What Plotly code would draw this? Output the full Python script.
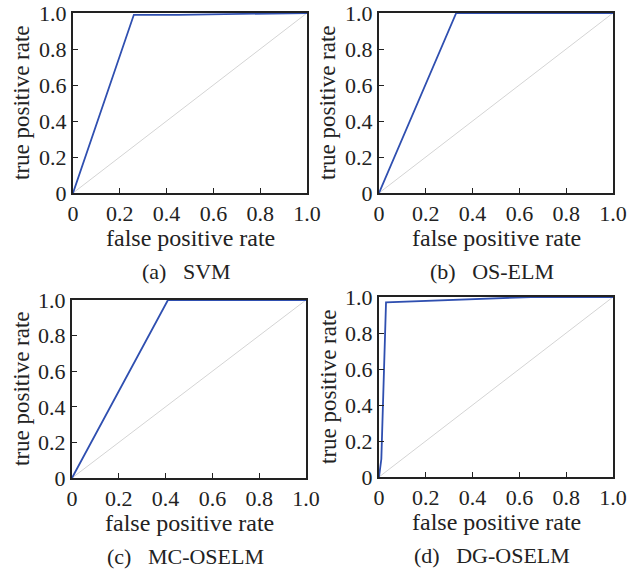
import plotly.graph_objects as go

W, H = 641, 574

# ROC data for each panel
svm_fpr = [0, 0.26, 0.45, 0.95, 1.0]
svm_tpr = [0, 0.99, 0.99, 1.0, 1.0]
oselm_fpr = [0, 0.33, 1.0]
oselm_tpr = [0, 1.0, 1.0]
mcoselm_fpr = [0, 0.41, 1.0]
mcoselm_tpr = [0, 1.0, 1.0]
dgoselm_fpr = [0, 0.01, 0.03, 0.65, 1.0]
dgoselm_tpr = [0, 0.1, 0.97, 1.0, 1.0]

diag = [0, 1]
tick_vals = [0, 0.2, 0.4, 0.6, 0.8, 1.0]
tick_text = ["0", "0.2", "0.4", "0.6", "0.8", "1.0"]
captions = ["(a)   SVM", "(b)   OS-ELM", "(c)   MC-OSELM", "(d)   DG-OSELM"]
xlabel = "false positive rate"
ylabel = "true positive rate"

series = [(svm_fpr, svm_tpr), (oselm_fpr, oselm_tpr), (mcoselm_fpr, mcoselm_tpr), (dgoselm_fpr, dgoselm_tpr)]

# panel boxes in pixels: (left, right, top, bottom)
boxes = [(73, 307, 13, 193), (379, 613, 13, 193), (72, 306, 300, 478), (379, 613, 297, 477)]

FONT = "Liberation Serif, Times New Roman, serif"
TXT = "#222222"

fig = go.Figure()
annotations = []
layout = {}
for i, ((fx, fy), (l, r, t, b)) in enumerate(zip(series, boxes)):
    n = "" if i == 0 else str(i + 1)
    xa, ya = "x" + n, "y" + n
    fig.add_trace(go.Scatter(x=diag, y=diag, mode="lines", line=dict(color="#d4d4d4", width=1),
                             xaxis=xa, yaxis=ya, showlegend=False, hoverinfo="skip"))
    fig.add_trace(go.Scatter(x=fx, y=fy, mode="lines", line=dict(color="#2f4fb0", width=1.8),
                             xaxis=xa, yaxis=ya, showlegend=False))
    common = dict(range=[0, 1], showgrid=False, zeroline=False, showline=True, mirror=True,
                  linecolor="#222222", linewidth=2, ticks="inside", ticklen=5, tickcolor="#222222",
                  tickvals=tick_vals, ticktext=tick_text, automargin=False,
                  tickfont=dict(family=FONT, size=22, color=TXT), fixedrange=True)
    layout["xaxis" + n] = dict(common, domain=[l / W, r / W], anchor=ya)
    layout["yaxis" + n] = dict(common, domain=[1 - b / H, 1 - t / H], anchor=xa)
    cx = (l + r) / 2 / W
    annotations.append(dict(text=xlabel, x=cx, y=1 - (b + 45) / H, xref="paper", yref="paper",
                            xanchor="center", yanchor="middle",
                            showarrow=False, font=dict(family=FONT, size=24, color=TXT)))
    annotations.append(dict(text=captions[i], x=cx - 4 / W, y=1 - (b + 78) / H, xref="paper", yref="paper",
                            xanchor="center", yanchor="middle",
                            showarrow=False, font=dict(family=FONT, size=22, color=TXT)))
    annotations.append(dict(text=ylabel, x=(l - 51) / W, y=1 - (t + b) / 2 / H, xref="paper", yref="paper",
                            xanchor="center", yanchor="middle",
                            textangle=-90, showarrow=False, font=dict(family=FONT, size=23, color=TXT)))

fig.update_layout(width=W, height=H, margin=dict(l=0, r=0, t=0, b=0),
                  paper_bgcolor="white", plot_bgcolor="white", annotations=annotations, **layout)
fig.write_html("out.html", config={"displayModeBar": False},
               post_script="document.body.style.margin='0';")
